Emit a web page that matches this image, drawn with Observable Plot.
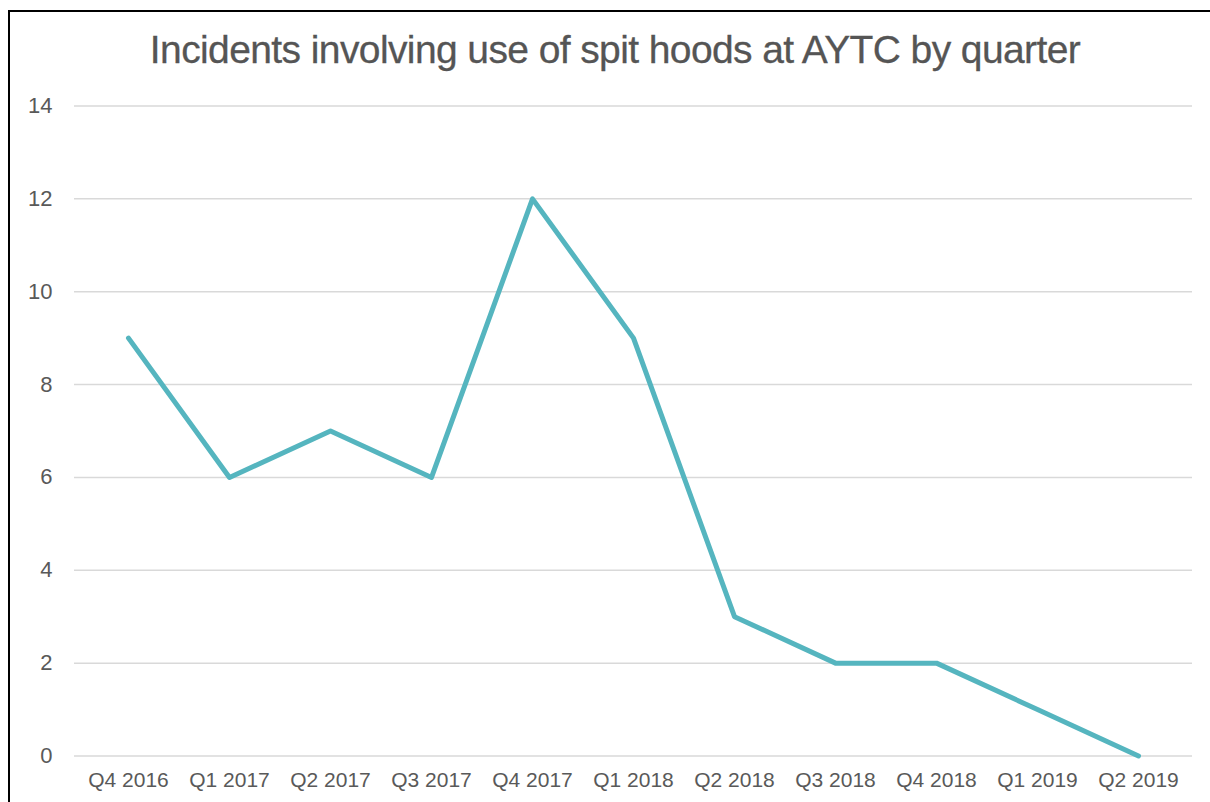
<!DOCTYPE html>
<html>
<head>
<meta charset="utf-8">
<script src="https://cdn.jsdelivr.net/npm/d3@7"></script>
<script src="https://cdn.jsdelivr.net/npm/@observablehq/plot@0.6"></script>
<style>
  html, body { margin: 0; padding: 0; background: #fff; width: 1210px; height: 802px; overflow: hidden; }
  #wrap { position: relative; width: 1210px; height: 802px; }
  #frame { position: absolute; left: 8px; top: 10px; width: 1210px; height: 800px; border-left: 2px solid #000; border-top: 2px solid #000; }
  #title { position: absolute; left: 0; top: 27px; width: 1230px; text-align: center; font-family: "Liberation Sans", Arial, sans-serif; font-size: 39px; line-height: 45px; color: #555555; letter-spacing: -0.6px; -webkit-text-stroke: 0.3px #555555; }
  #chart { position: absolute; left: 0; top: 0; }
  #chart svg text { font-family: "Liberation Sans", Arial, sans-serif; }
</style>
</head>
<body>
<div id="wrap">
  <div id="frame"></div>
  <div id="title">Incidents involving use of spit hoods at AYTC by quarter</div>
  <div id="chart"></div>
</div>
<script>
const quarters = ["Q4 2016", "Q1 2017", "Q2 2017", "Q3 2017", "Q4 2017", "Q1 2018", "Q2 2018", "Q3 2018", "Q4 2018", "Q1 2019", "Q2 2019"];
const incidents = [9, 6, 7, 6, 12, 9, 3, 2, 2, 1, 0];
const yTicks = [0, 2, 4, 6, 8, 10, 12, 14];

const data = quarters.map((q, i) => ({quarter: q, value: incidents[i]}));

const chart = Plot.plot({
  width: 1210,
  height: 802,
  marginTop: 105.5,
  marginBottom: 46.5,
  marginLeft: 74,
  marginRight: 18,
  style: {background: "transparent", fontSize: "21px", color: "#595959", overflow: "visible"},
  x: {type: "point", domain: quarters, padding: 0.5, label: null},
  y: {domain: [0, 14], label: null},
  marks: [
    Plot.gridY(yTicks, {stroke: "#d9d9d9", strokeOpacity: 1, strokeWidth: 1.5}),
    Plot.axisY(yTicks, {tickSize: 0, tickPadding: 22, label: null, fill: "#595959", fontSize: 22}),
    Plot.axisX({tickSize: 0, tickPadding: 16, label: null, fill: "#595959", fontSize: 21}),
    Plot.line(data, {x: "quarter", y: "value", stroke: "#55b5bf", strokeWidth: 5, strokeLinejoin: "round", strokeLinecap: "round"})
  ]
});
document.getElementById("chart").appendChild(chart);
</script>
</body>
</html>
